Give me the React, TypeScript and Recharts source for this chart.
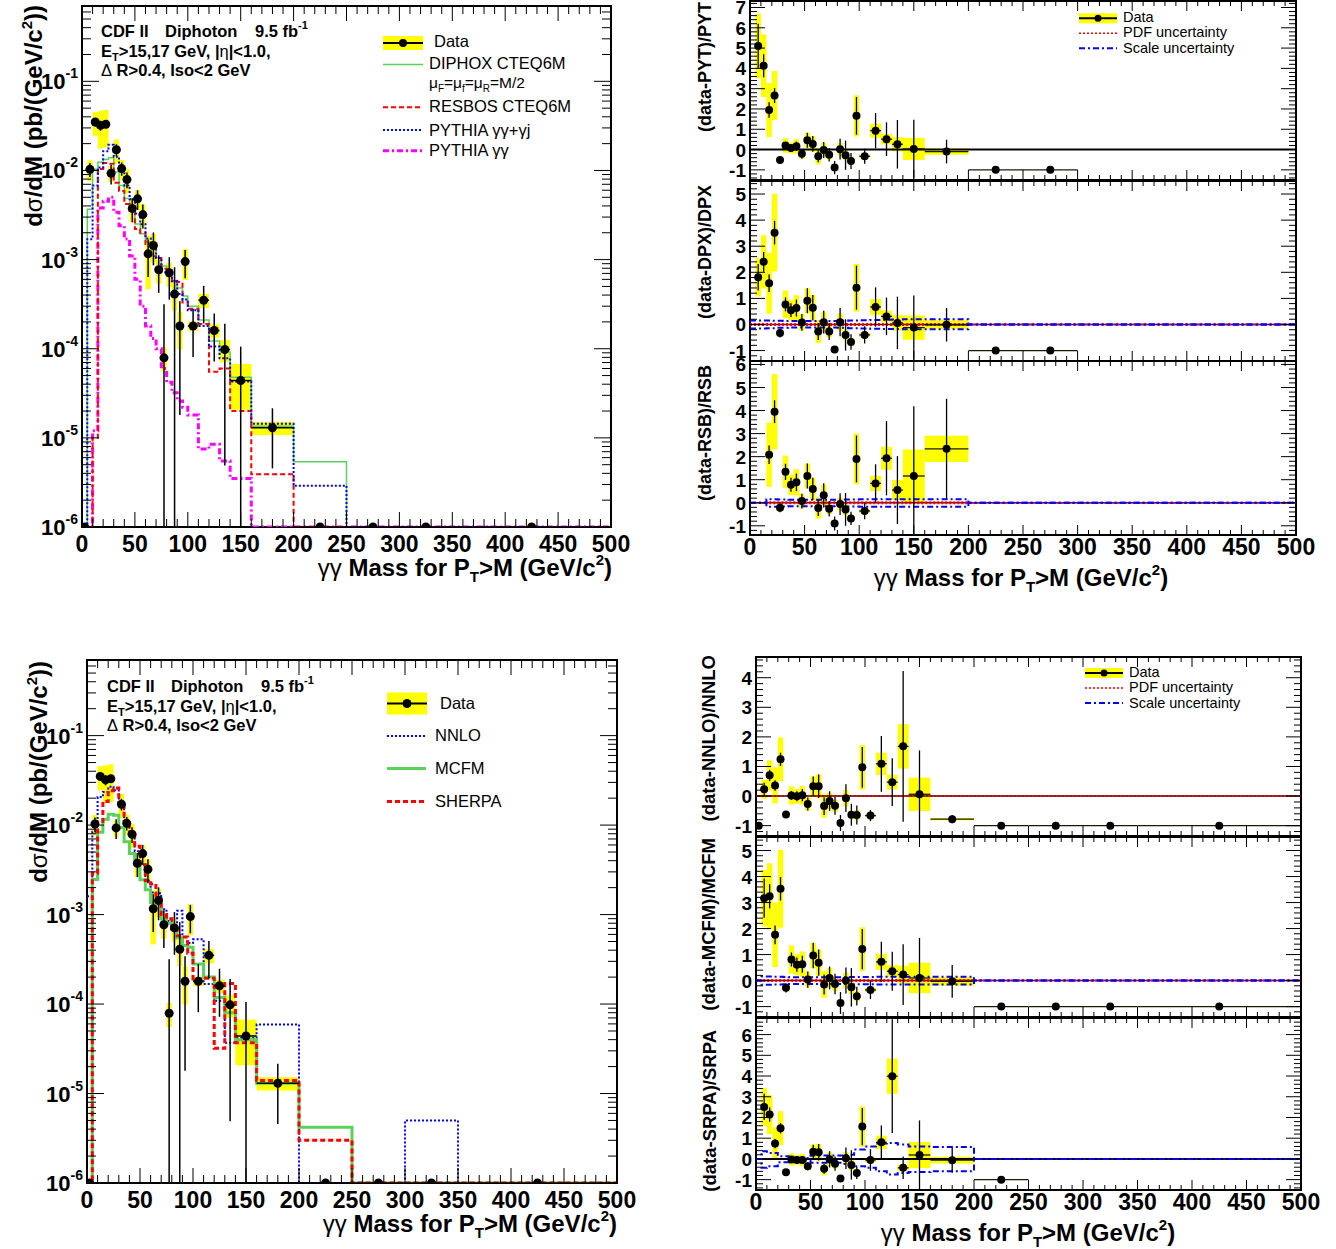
import React from 'react';
import {
  ComposedChart,
  Line,
  Scatter,
  XAxis,
  YAxis,
  ErrorBar,
  ReferenceArea,
  ReferenceLine,
} from 'recharts';

// ---- binning (GeV/c^2) ----
const EDGES = [0, 5, 10, 15, 20, 25, 30, 35, 40, 45, 50, 55, 60, 65, 70, 75, 80, 85, 90, 95, 100, 110, 120, 130, 140, 160, 200, 250, 300, 350, 500];
const MASS = [2.5, 7.5, 12.5, 17.5, 22.5, 27.5, 32.5, 37.5, 42.5, 47.5, 52.5, 57.5, 62.5, 67.5, 72.5, 77.5, 82.5, 87.5, 92.5, 97.5, 105, 115, 125, 135, 150, 180, 225, 275, 325, 425];

// ---- measured cross section, pb/(GeV/c^2) ----
const DATA = [0, 0.0103, 0.035, 0.032, 0.033, 0.0093, 0.0171, 0.0105, 0.0079, 0.00375, 0.0048, 0.0032, 0.00116, 0.00144, 0.00077, 0.000079, 0.00071, 0.00041, 0.00018, 0.00095, 0.00018, 0.00035, 0.00016, 0.000098, 0.000044, 0.000013, 0, 0, 0, 0];
const STAT_REL = [0, 0.18, 0.11, 0.13, 0.1, 0.25, 0.15, 0.17, 0.2, 0.3, 0.25, 0.3, 0.45, 0.4, 0.45, 3.0, 0.5, 1.0, 0.9, 0.35, 0.55, 0.45, 0.55, 0.95, 1.4, 0.65, 0, 0, 0, 0];
const SYS_REL = [0, 0.26, 0.3, 0.45, 0.45, 0.2, 0.3, 0.25, 0.3, 0.3, 0.25, 0.3, 0.6, 0.35, 0.3, 0.3, 0.3, 0.35, 0.45, 0.38, 0.12, 0.18, 0.17, 0.28, 0.53, 0.17, 0, 0, 0, 0];

// ---- predictions (top) ----
const DIPHOX = [0, 0.00367, 0.0103, 0.0124, 0.0133, 0.0139, 0.00966, 0.00677, 0.00485, 0.00347, 0.00251, 0.00195, 0.00159, 0.00132, 0.00105, 0.00085, 0.00065, 0.00058, 0.00048, 0.00039, 0.0003, 0.00021, 0.000122, 0.000092, 0.000048, 0.0000135, 0.0000054, 0, 0, 0];
const RESBOS = [0, 0, 0.00001, 0.0104, 0.0121, 0.0119, 0.0073, 0.0059, 0.0042, 0.0035, 0.0022, 0.002, 0.0015, 0.00109, 0.00104, 0.00079, 0.00076, 0.00058, 0.00056, 0.00033, 0.00028, 0.00019, 0.000055, 0.00006, 0.00002, 0.0000039, 0, 0, 0, 0];
const PYTHIA_GJ = [0, 0.00169, 0.0068, 0.0108, 0.0164, 0.0194, 0.01425, 0.0097, 0.0068, 0.00475, 0.00329, 0.0025, 0.00173, 0.00147, 0.00104, 0.00072, 0.0007, 0.00057, 0.00041, 0.000357, 0.00027, 0.00018, 0.000106, 0.000078, 0.000043, 0.0000144, 0.0000029, 0, 0, 0];
const PYTHIA_GG = [0, 0, 0.000012, 0.0038, 0.0045, 0.005, 0.0034, 0.0024, 0.0017, 0.0011, 0.0006, 0.0003, 0.00018, 0.00013, 0.0001, 0.00006, 0.000042, 0.000032, 0.000026, 0.000022, 0.000018, 0.0000075, 0.0000085, 0.0000055, 0.0000035, 0, 0, 0, 0, 0];

// ---- predictions (bottom) ----
const NNLO = [0.0016, 0.0084, 0.0206, 0.0235, 0.0268, 0.0245, 0.0168, 0.0106, 0.0077, 0.0051, 0.0036, 0.0024, 0.00176, 0.00173, 0.00115, 0.00085, 0.00076, 0.0011, 0.0005, 0.00048, 0.00053, 0.000167, 0.000109, 0.000037, 0.000042, 0.000059, 0, 0, 0.000005, 0];
const MCFM = [0, 0.00247, 0.0083, 0.0116, 0.0132, 0.0129, 0.0094, 0.0065, 0.0048, 0.0036, 0.00245, 0.0019, 0.00136, 0.00131, 0.00089, 0.0008, 0.00071, 0.00055, 0.00045, 0.00043, 0.00028, 0.0002, 0.000118, 0.00008, 0.00004, 0.000013, 0.0000042, 0, 0, 0];
const SHERPA = [0, 0.0029, 0.011, 0.0184, 0.0242, 0.026, 0.0176, 0.011, 0.0083, 0.0058, 0.0036, 0.0024, 0.0022, 0.00147, 0.001, 0.0009, 0.00069, 0.00058, 0.00056, 0.00037, 0.00019, 0.000194, 0.000032, 0.00017, 0.000037, 0.000014, 0.000003, 0, 0, 0];

// ---- (data - theory)/theory ----
const R_PYT = [null, 5.1, 4.13, 1.95, 2.66, -0.52, 0.2, 0.08, 0.16, -0.21, 0.46, 0.28, -0.33, -0.02, -0.26, -0.89, 0.02, -0.28, -0.56, 1.66, -0.33, 0.93, 0.51, 0.26, 0.03, -0.1, -1, -1, null, null];
const R_DPX = [null, 1.81, 2.4, 1.58, 3.52, -0.33, 0.77, 0.55, 0.63, 0.08, 0.91, 0.64, -0.27, 0.09, -0.27, -0.96, 0.09, -0.4, -0.67, 1.41, -0.4, 0.67, 0.31, 0.06, -0.12, -0.01, -1, -1, null, null];
const R_RSB = [null, null, null, 2.08, 3.95, -0.22, 1.34, 0.78, 0.89, 0.07, 1.16, 0.6, -0.23, 0.32, -0.26, -0.9, -0.06, -0.29, -0.68, 1.9, -0.36, 0.84, 1.93, 0.55, 1.16, 2.34, null, null, null, null];
const R_NNLO = [-1, 0.23, 0.7, 0.36, 1.24, -0.62, 0.02, -0.01, 0.03, -0.27, 0.33, 0.33, -0.34, -0.17, -0.33, -0.91, -0.07, -0.63, -0.64, 0.97, -0.66, 1.09, 0.47, 1.68, 0.06, -0.78, -1, -1, -1, -1];
const R_MCFM = [null, 3.17, 3.24, 1.76, 3.53, -0.28, 0.81, 0.61, 0.63, 0.04, 0.96, 0.69, -0.15, 0.1, -0.13, -0.86, 0, -0.26, -0.6, 1.21, -0.36, 0.72, 0.36, 0.23, 0.1, -0.03, -1, -1, -1, -1];
const R_SRPA = [null, 2.51, 2.14, 0.74, 1.48, -0.64, -0.03, -0.05, -0.05, -0.35, 0.35, 0.32, -0.48, -0.02, -0.23, -0.95, 0.03, -0.29, -0.68, 1.56, -0.05, 0.8, 3.99, -0.43, 0.19, -0.06, -1, null, null, null];

// relative data errors used in the ratio panels (stat / syst of the ratio ~ (1+r) * rel)
const R_STAT_REL = [0, 0.18, 0.11, 0.13, 0.1, 0.25, 0.15, 0.17, 0.2, 0.3, 0.25, 0.3, 0.45, 0.4, 0.45, 3.0, 0.5, 1.0, 0.9, 0.35, 0.55, 0.45, 0.55, 0.95, 1.4, 0.65, 0, 0, 0, 0];
const R_SYS_REL = [0, 0.26, 0.3, 0.45, 0.33, 0.2, 0.3, 0.25, 0.3, 0.3, 0.25, 0.3, 0.6, 0.35, 0.3, 0.3, 0.3, 0.35, 0.45, 0.38, 0.12, 0.18, 0.17, 0.28, 0.53, 0.17, 0, 0, 0, 0];

// ---- uncertainty bands on the ratios ----
const DPX_SCALE_UP = [0.15, 0.15, 0.15, 0.15, 0.14, 0.14, 0.13, 0.13, 0.13, 0.13, 0.13, 0.13, 0.13, 0.13, 0.13, 0.13, 0.14, 0.14, 0.15, 0.15, 0.16, 0.17, 0.18, 0.19, 0.2, 0.2, 0, 0, 0, 0];
const DPX_SCALE_DN = [-0.15, -0.15, -0.15, -0.14, -0.14, -0.13, -0.13, -0.12, -0.12, -0.12, -0.12, -0.12, -0.12, -0.12, -0.12, -0.12, -0.13, -0.13, -0.14, -0.14, -0.15, -0.16, -0.17, -0.17, -0.18, -0.18, 0, 0, 0, 0];
const DPX_PDF_UP = [0.03, 0.03, 0.03, 0.03, 0.03, 0.03, 0.03, 0.03, 0.03, 0.03, 0.03, 0.03, 0.03, 0.03, 0.03, 0.03, 0.03, 0.03, 0.03, 0.03, 0.03, 0.03, 0.03, 0.03, 0.03, 0.03, 0, 0, 0, 0];
const DPX_PDF_DN = [-0.03, -0.03, -0.03, -0.03, -0.03, -0.03, -0.03, -0.03, -0.03, -0.03, -0.03, -0.03, -0.03, -0.03, -0.03, -0.03, -0.03, -0.03, -0.03, -0.03, -0.03, -0.03, -0.03, -0.03, -0.03, -0.03, 0, 0, 0, 0];
const RSB_SCALE_UP = [0, 0, 0, 0.15, 0.15, 0.14, 0.14, 0.13, 0.13, 0.13, 0.13, 0.13, 0.13, 0.13, 0.13, 0.13, 0.13, 0.14, 0.14, 0.14, 0.15, 0.15, 0.15, 0.15, 0.15, 0.15, 0, 0, 0, 0];
const RSB_SCALE_DN = [0, 0, 0, -0.17, -0.17, -0.16, -0.16, -0.15, -0.15, -0.15, -0.15, -0.15, -0.15, -0.15, -0.15, -0.15, -0.15, -0.16, -0.16, -0.16, -0.17, -0.17, -0.17, -0.17, -0.17, -0.17, 0, 0, 0, 0];
const RSB_PDF_UP = [0, 0, 0, 0.03, 0.03, 0.03, 0.03, 0.03, 0.03, 0.03, 0.03, 0.03, 0.03, 0.03, 0.03, 0.03, 0.03, 0.03, 0.03, 0.03, 0.03, 0.03, 0.03, 0.03, 0.03, 0.03, 0, 0, 0, 0];
const RSB_PDF_DN = [0, 0, 0, -0.03, -0.03, -0.03, -0.03, -0.03, -0.03, -0.03, -0.03, -0.03, -0.03, -0.03, -0.03, -0.03, -0.03, -0.03, -0.03, -0.03, -0.03, -0.03, -0.03, -0.03, -0.03, -0.03, 0, 0, 0, 0];
const MCFM_SCALE_UP = [0, 0.16, 0.16, 0.15, 0.15, 0.14, 0.13, 0.13, 0.13, 0.13, 0.13, 0.13, 0.13, 0.13, 0.13, 0.13, 0.13, 0.14, 0.14, 0.14, 0.14, 0.15, 0.15, 0.15, 0.15, 0.15, 0, 0, 0, 0];
const MCFM_SCALE_DN = [0, -0.16, -0.16, -0.15, -0.15, -0.14, -0.13, -0.13, -0.13, -0.13, -0.13, -0.13, -0.13, -0.13, -0.13, -0.13, -0.13, -0.14, -0.14, -0.14, -0.14, -0.15, -0.15, -0.15, -0.15, -0.15, 0, 0, 0, 0];
const MCFM_PDF_UP = [0, 0.03, 0.03, 0.03, 0.03, 0.03, 0.03, 0.03, 0.03, 0.03, 0.03, 0.03, 0.03, 0.03, 0.03, 0.03, 0.03, 0.03, 0.03, 0.03, 0.03, 0.03, 0.03, 0.03, 0.03, 0.03, 0, 0, 0, 0];
const MCFM_PDF_DN = [0, -0.03, -0.03, -0.03, -0.03, -0.03, -0.03, -0.03, -0.03, -0.03, -0.03, -0.03, -0.03, -0.03, -0.03, -0.03, -0.03, -0.03, -0.03, -0.03, -0.03, -0.03, -0.03, -0.03, -0.03, -0.03, 0, 0, 0, 0];
const SRPA_SCALE_UP = [0, 0.37, 0.29, 0.29, 0.13, 0.13, 0.05, 0.05, 0.05, 0.05, 0.16, 0.16, 0.16, 0.16, 0.16, 0.16, 0.2, 0.2, 0.45, 0.45, 0.6, 0.74, 0.77, 0.69, 0.6, 0.58, 0, 0, 0, 0];
const SRPA_SCALE_DN = [0, -0.43, -0.35, -0.35, -0.16, -0.16, -0.08, -0.08, -0.08, -0.08, -0.19, -0.19, -0.19, -0.19, -0.19, -0.19, -0.24, -0.24, -0.35, -0.35, -0.43, -0.6, -0.75, -0.68, -0.63, -0.6, 0, 0, 0, 0];

// ---- axis ticks ----
const X_LABELS = [0, 50, 100, 150, 200, 250, 300, 350, 400, 450, 500];
const X_TICKS = Array.from({ length: 51 }, (_, i) => i * 10);
const LOG_DECADES = [1e-6, 1e-5, 1e-4, 1e-3, 1e-2, 1e-1];
const LOG_MIN = 1e-6;
const LOG_MAX = 0.7;
const LOG_TICKS = LOG_DECADES.flatMap((d) => [1, 2, 3, 4, 5, 6, 7, 8, 9].map((k) => k * d)).filter((v) => v <= LOG_MAX * 1.0001);

const FONT = '"Liberation Sans", Arial, Helvetica, sans-serif';
const YELLOW = '#ffff00';
const GREEN = '#5ad25a';
const RED = '#ff0000';
const BLUE = '#0000ff';
const MAGENTA = '#ff00ff';
const DOTTED = '2 2';
const DASHED = '5 3';
const DASHDOT = '6 3 2 3';

type Curve = { key: string; vals: number[]; color: string; width: number; dash?: string };

const stepPts = (vals: number[], floor?: number) => {
  const f = (v: number) => (floor === undefined ? v : Math.max(v, floor));
  const pts = vals.map((v, i) => ({ x: EDGES[i], y: f(v) }));
  pts.push({ x: EDGES[EDGES.length - 1], y: f(vals[vals.length - 1]) });
  return pts;
};

const xTick = (ph: number, majLen: number, minLen: number, showLabels: boolean, labelDy: number) => (p: any) => {
  const v = Math.round(Number(p.payload.value));
  const major = X_LABELS.includes(v);
  const len = major ? majLen : minLen;
  return (
    <g>
      <line x1={p.x} x2={p.x} y1={p.y} y2={p.y - len} stroke="#000" strokeWidth={1} />
      <line x1={p.x} x2={p.x} y1={p.y - ph} y2={p.y - ph + len} stroke="#000" strokeWidth={1} />
      {showLabels && major && (
        <text x={p.x} y={p.y + labelDy} textAnchor="middle" fontSize={23} fontWeight="bold" fontFamily={FONT} fill="#000">
          {v}
        </text>
      )}
    </g>
  );
};

const logYTick = (pw: number) => (p: any) => {
  const v = Number(p.payload.value);
  const exp = Math.round(Math.log10(v));
  const major = Math.abs(v / Math.pow(10, exp) - 1) < 1e-6;
  const len = major ? 17 : 9;
  return (
    <g>
      <line x1={p.x} x2={p.x + len} y1={p.y} y2={p.y} stroke="#000" strokeWidth={1} />
      <line x1={p.x + pw - len} x2={p.x + pw} y1={p.y} y2={p.y} stroke="#000" strokeWidth={1} />
      {major && (
        <text x={p.x - 4} y={p.y + 8} textAnchor="end" fontSize={22} fontWeight="bold" fontFamily={FONT} fill="#000">
          10<tspan dy={-11} fontSize={14}>{exp}</tspan>
        </text>
      )}
    </g>
  );
};

const linYTick = (pw: number, labels: number[]) => (p: any) => {
  const v = Number(p.payload.value);
  const major = Math.abs(v - Math.round(v)) < 1e-6;
  const len = major ? 15 : 7;
  return (
    <g>
      <line x1={p.x} x2={p.x + len} y1={p.y} y2={p.y} stroke="#000" strokeWidth={1} />
      <line x1={p.x + pw - len} x2={p.x + pw} y1={p.y} y2={p.y} stroke="#000" strokeWidth={1} />
      {major && labels.includes(Math.round(v)) && (
        <text x={p.x - 4} y={p.y + 7} textAnchor="end" fontSize={19} fontWeight="bold" fontFamily={FONT} fill="#000">
          {Math.round(v)}
        </text>
      )}
    </g>
  );
};

const dotShape = (r: number) => (p: any) => <circle cx={p.cx} cy={p.cy} r={r} fill="#000" />;

const PAD_L = 90;
const PAD_T = 10;
const PAD_R = 25;
const PAD_B = 40;

function LogPanel({ x0, x1, y0, y1, curves }: { x0: number; x1: number; y0: number; y1: number; curves: Curve[] }) {
  const pw = x1 - x0;
  const ph = y1 - y0;
  const points = DATA.map((v, i) => {
    const y = Math.max(v, LOG_MIN);
    const e = v * STAT_REL[i];
    return {
      x: MASS[i],
      y,
      ey: [Math.min(e, y - LOG_MIN), Math.min(e, LOG_MAX - y)],
      ex: (EDGES[i + 1] - EDGES[i]) / 2,
    };
  });
  return (
    <div style={{ position: 'absolute', left: x0 - PAD_L, top: y0 - PAD_T }}>
      <ComposedChart width={pw + PAD_L + PAD_R} height={ph + PAD_T + PAD_B} margin={{ top: PAD_T, right: PAD_R, bottom: 0, left: 0 }}>
        <XAxis type="number" dataKey="x" domain={[0, 500]} allowDataOverflow ticks={X_TICKS} interval={0} height={PAD_B}
          tickSize={0} tickMargin={0} tickLine={false} axisLine={false} tick={xTick(ph, 15, 8, true, 25)} />
        <YAxis type="number" dataKey="y" scale="log" domain={[LOG_MIN, LOG_MAX]} allowDataOverflow ticks={LOG_TICKS} interval={0}
          width={PAD_L} tickSize={0} tickMargin={0} tickLine={false} axisLine={false} tick={logYTick(pw)} />
        {DATA.map((v, i) =>
          v > 0 ? (
            <ReferenceArea key={`sys${i}`} x1={EDGES[i]} x2={EDGES[i + 1]} y1={Math.max(v * (1 - SYS_REL[i]), LOG_MIN)}
              y2={Math.min(v * (1 + SYS_REL[i]), LOG_MAX)} fill={YELLOW} fillOpacity={1} stroke="none" />
          ) : null
        )}
        {curves.map((c) => (
          <Line key={c.key} data={stepPts(c.vals, LOG_MIN)} dataKey="y" type="stepAfter" stroke={c.color} strokeWidth={c.width}
            strokeDasharray={c.dash} dot={false} activeDot={false} isAnimationActive={false} />
        ))}
        <Scatter data={points} shape={dotShape(4.5)} isAnimationActive={false}>
          <ErrorBar dataKey="ey" direction="y" width={0} stroke="#000" strokeWidth={1.5} />
          <ErrorBar dataKey="ex" direction="x" width={0} stroke="#000" strokeWidth={1.5} />
        </Scatter>
        <ReferenceArea x1={0} x2={500} y1={LOG_MIN} y2={LOG_MAX} fill="none" stroke="#000" strokeWidth={2} ifOverflow="visible" />
      </ComposedChart>
    </div>
  );
}

function RatioPanel({
  x0, x1, y0, y1, lo, hi, labels, ratio, bands, zero, xLabels,
}: {
  x0: number; x1: number; y0: number; y1: number; lo: number; hi: number; labels: number[];
  ratio: (number | null)[]; bands: Curve[]; zero: { color: string; dash?: string; width: number }[]; xLabels: boolean;
}) {
  const pw = x1 - x0;
  const ph = y1 - y0;
  const PL = 60;
  const PT = 12;
  const yTicks: number[] = [];
  for (let t = Math.ceil(lo * 5); t <= Math.floor(hi * 5); t++) yTicks.push(t / 5);
  const pts: any[] = [];
  const boxes: any[] = [];
  ratio.forEach((r, i) => {
    if (r === null) return;
    const s = (1 + r) * R_STAT_REL[i];
    const b = (1 + r) * R_SYS_REL[i];
    pts.push({ x: MASS[i], y: r, ey: [Math.min(s, r - lo), Math.min(s, hi - r)], ex: (EDGES[i + 1] - EDGES[i]) / 2 });
    if (b > 0) boxes.push({ i, y1: Math.max(r - b, lo), y2: Math.min(r + b, hi) });
  });
  return (
    <div style={{ position: 'absolute', left: x0 - PL, top: y0 - PT }}>
      <ComposedChart width={pw + PL + PAD_R} height={ph + PT + PAD_B} margin={{ top: PT, right: PAD_R, bottom: 0, left: 0 }}>
        <XAxis type="number" dataKey="x" domain={[0, 500]} allowDataOverflow ticks={X_TICKS} interval={0} height={PAD_B}
          tickSize={0} tickMargin={0} tickLine={false} axisLine={false} tick={xTick(ph, 10, 5, xLabels, 20)} />
        <YAxis type="number" dataKey="y" domain={[lo, hi]} allowDataOverflow ticks={yTicks} interval={0} width={PL}
          tickSize={0} tickMargin={0} tickLine={false} axisLine={false} tick={linYTick(pw, labels)} />
        {boxes.map((bx) => (
          <ReferenceArea key={`b${bx.i}`} x1={EDGES[bx.i]} x2={EDGES[bx.i + 1]} y1={bx.y1} y2={bx.y2} fill={YELLOW} fillOpacity={1} stroke="none" />
        ))}
        {zero.map((z, k) => (
          <ReferenceLine key={`z${k}`} y={0} stroke={z.color} strokeWidth={z.width} strokeDasharray={z.dash} />
        ))}
        {bands.map((c) => (
          <Line key={c.key} data={stepPts(c.vals)} dataKey="y" type="stepAfter" stroke={c.color} strokeWidth={c.width}
            strokeDasharray={c.dash} dot={false} activeDot={false} isAnimationActive={false} />
        ))}
        <Scatter data={pts} shape={dotShape(4)} isAnimationActive={false}>
          <ErrorBar dataKey="ey" direction="y" width={0} stroke="#000" strokeWidth={1.3} />
          <ErrorBar dataKey="ex" direction="x" width={0} stroke="#1a1a00" strokeWidth={1.3} />
        </Scatter>
        <ReferenceArea x1={0} x2={500} y1={lo} y2={hi} fill="none" stroke="#000" strokeWidth={2} ifOverflow="visible" />
      </ComposedChart>
    </div>
  );
}

const T = { fontFamily: FONT, fill: '#000' } as const;

function XTitle({ x, y, anchor }: { x: number; y: number; anchor: 'end' | 'middle' }) {
  return (
    <text x={x} y={y} textAnchor={anchor} fontSize={24} fontWeight="bold" {...T}>
      <tspan fontWeight="normal">γγ</tspan> Mass for P<tspan dy={6} fontSize={15}>T</tspan>
      <tspan dy={-6}>&gt;M (GeV/c</tspan><tspan dy={-11} fontSize={15}>2</tspan><tspan dy={11}>)</tspan>
    </text>
  );
}

function RotTitle({ x, y, size, children }: { x: number; y: number; size: number; children: React.ReactNode }) {
  return (
    <text transform={`translate(${x},${y}) rotate(-90)`} textAnchor="end" fontSize={size} fontWeight="bold" {...T}>
      {children}
    </text>
  );
}

function CdfLabel({ x, y }: { x: number; y: number }) {
  return (
    <g fontSize={16.5} fontWeight="bold" {...T}>
      <text x={x} y={y} {...T}>CDF II</text>
      <text x={x + 64} y={y} {...T}>Diphoton</text>
      <text x={x + 154} y={y} {...T}>9.5 fb<tspan dy={-8} fontSize={11}>-1</tspan></text>
      <text x={x} y={y + 20} {...T}>
        E<tspan dy={4} fontSize={11}>T</tspan><tspan dy={-4}>&gt;15,17 GeV, |</tspan>
        <tspan fontWeight="normal">η</tspan>|&lt;1.0,
      </text>
      <text x={x} y={y + 39} {...T}>
        <tspan fontWeight="normal">Δ</tspan> R&gt;0.4, Iso&lt;2 GeV
      </text>
    </g>
  );
}

function DataKey({ x, y, w, h, r }: { x: number; y: number; w: number; h: number; r: number }) {
  return (
    <g>
      <rect x={x} y={y - h / 2} width={w} height={h} fill={YELLOW} />
      <line x1={x} x2={x + w} y1={y} y2={y} stroke="#000" strokeWidth={2} />
      <circle cx={x + w / 2} cy={y} r={r} fill="#000" />
    </g>
  );
}

function KeyLine({ x, y, w, color, width, dash }: { x: number; y: number; w: number; color: string; width: number; dash?: string }) {
  return <line x1={x} x2={x + w} y1={y} y2={y} stroke={color} strokeWidth={width} strokeDasharray={dash} />;
}

function UncLegend({ x, y }: { x: number; y: number }) {
  return (
    <g fontSize={14.5} {...T}>
      <DataKey x={x} y={y} w={38} h={10} r={3.5} />
      <text x={x + 44} y={y + 4} {...T}>Data</text>
      <KeyLine x={x} y={y + 15} w={38} color={RED} width={1.5} dash={DOTTED} />
      <text x={x + 44} y={y + 19} {...T}>PDF uncertainty</text>
      <KeyLine x={x} y={y + 30} w={38} color={BLUE} width={2} dash={DASHDOT} />
      <text x={x + 44} y={y + 35} {...T}>Scale uncertainty</text>
    </g>
  );
}

const TOP_CURVES: Curve[] = [
  { key: 'dpx', vals: DIPHOX, color: GREEN, width: 1.5 },
  { key: 'gg', vals: PYTHIA_GG, color: MAGENTA, width: 3, dash: DASHDOT },
  { key: 'rsb', vals: RESBOS, color: RED, width: 2, dash: DASHED },
  { key: 'pyt', vals: PYTHIA_GJ, color: BLUE, width: 2, dash: DOTTED },
];

const BOTTOM_CURVES: Curve[] = [
  { key: 'nnlo', vals: NNLO, color: BLUE, width: 2, dash: DOTTED },
  { key: 'mcfm', vals: MCFM, color: GREEN, width: 3 },
  { key: 'srpa', vals: SHERPA, color: RED, width: 3, dash: DASHED },
];

const band = (key: string, vals: number[], color: string, width: number, dash: string): Curve => ({ key, vals, color, width, dash });

export default function App() {
  return (
    <div style={{ position: 'absolute', left: 0, top: 0, width: 1336, height: 1249, background: '#fff', fontFamily: FONT }}>
      <LogPanel x0={82} x1={611} y0={6} y1={527} curves={TOP_CURVES} />
      <LogPanel x0={87} x1={617} y0={660} y1={1183} curves={BOTTOM_CURVES} />

      <RatioPanel x0={750} x1={1296} y0={1} y1={180} lo={-1.5} hi={7.32} labels={[-1, 0, 1, 2, 3, 4, 5, 6, 7]}
        ratio={R_PYT} bands={[]} zero={[{ color: '#000', width: 2 }]} xLabels={false} />
      <RatioPanel x0={750} x1={1296} y0={181} y1={361} lo={-1.4} hi={5.5} labels={[-1, 0, 1, 2, 3, 4, 5]}
        ratio={R_DPX} xLabels={false} zero={[{ color: '#800000', width: 1.5 }]}
        bands={[
          band('pu', DPX_PDF_UP, RED, 1.5, DOTTED), band('pd', DPX_PDF_DN, RED, 1.5, DOTTED),
          band('su', DPX_SCALE_UP, BLUE, 2, DASHDOT), band('sd', DPX_SCALE_DN, BLUE, 2, DASHDOT),
        ]} />
      <RatioPanel x0={750} x1={1296} y0={361} y1={535} lo={-1.4} hi={6.15} labels={[-1, 0, 1, 2, 3, 4, 5, 6]}
        ratio={R_RSB} xLabels={true} zero={[{ color: '#800000', width: 1.5 }]}
        bands={[
          band('pu', RSB_PDF_UP, RED, 1.5, DOTTED), band('pd', RSB_PDF_DN, RED, 1.5, DOTTED),
          band('su', RSB_SCALE_UP, BLUE, 2, DASHDOT), band('sd', RSB_SCALE_DN, BLUE, 2, DASHDOT),
        ]} />

      <RatioPanel x0={756} x1={1301} y0={657} y1={836} lo={-1.35} hi={4.7} labels={[-1, 0, 1, 2, 3, 4]}
        ratio={R_NNLO} bands={[]} xLabels={false}
        zero={[{ color: '#000', width: 1.5 }, { color: RED, width: 2, dash: DOTTED }]} />
      <RatioPanel x0={756} x1={1301} y0={837} y1={1017} lo={-1.4} hi={5.52} labels={[-1, 0, 1, 2, 3, 4, 5]}
        ratio={R_MCFM} xLabels={false} zero={[{ color: '#800000', width: 1.5 }]}
        bands={[
          band('pu', MCFM_PDF_UP, RED, 1.5, DOTTED), band('pd', MCFM_PDF_DN, RED, 1.5, DOTTED),
          band('su', MCFM_SCALE_UP, BLUE, 2, DASHDOT), band('sd', MCFM_SCALE_DN, BLUE, 2, DASHDOT),
        ]} />
      <RatioPanel x0={756} x1={1301} y0={1018} y1={1190} lo={-1.5} hi={6.8} labels={[-1, 0, 1, 2, 3, 4, 5, 6]}
        ratio={R_SRPA} xLabels={true} zero={[{ color: '#000', width: 2 }]}
        bands={[band('su', SRPA_SCALE_UP, BLUE, 2, DASHDOT), band('sd', SRPA_SCALE_DN, BLUE, 2, DASHDOT)]} />

      <svg width={1336} height={1249} style={{ position: 'absolute', left: 0, top: 0, pointerEvents: 'none' }}>
        {/* top-left */}
        <RotTitle x={42} y={5} size={24}>
          d<tspan fontWeight="normal">σ</tspan>/dM (pb/(GeV/c<tspan dy={-10} fontSize={15}>2</tspan><tspan dy={10}>))</tspan>
        </RotTitle>
        <XTitle x={612} y={576} anchor="end" />
        <CdfLabel x={101} y={37} />
        <g fontSize={16.5} {...T}>
          <DataKey x={383} y={43} w={40} h={14} r={4} />
          <text x={434} y={47} {...T}>Data</text>
          <KeyLine x={383} y={64.5} w={40} color={GREEN} width={1.5} />
          <text x={429} y={68.5} {...T}>DIPHOX CTEQ6M</text>
          <text x={429} y={88} fontSize={15.5} {...T}>
            μ<tspan dy={4} fontSize={10}>F</tspan><tspan dy={-4}>=μ</tspan><tspan dy={4} fontSize={10}>f</tspan>
            <tspan dy={-4}>=μ</tspan><tspan dy={4} fontSize={10}>R</tspan><tspan dy={-4}>=M/2</tspan>
          </text>
          <KeyLine x={383} y={107.3} w={40} color={RED} width={2} dash={DASHED} />
          <text x={429} y={112} {...T}>RESBOS CTEQ6M</text>
          <KeyLine x={383} y={130} w={40} color={BLUE} width={2} dash={DOTTED} />
          <text x={429} y={136} {...T}>PYTHIA γγ+γj</text>
          <KeyLine x={383} y={150.7} w={40} color={MAGENTA} width={3} dash={DASHDOT} />
          <text x={429} y={155.5} {...T}>PYTHIA γγ</text>
        </g>

        {/* bottom-left */}
        <RotTitle x={47} y={661} size={24}>
          d<tspan fontWeight="normal">σ</tspan>/dM (pb/(GeV/c<tspan dy={-10} fontSize={15}>2</tspan><tspan dy={10}>))</tspan>
        </RotTitle>
        <XTitle x={617} y={1232} anchor="end" />
        <CdfLabel x={107} y={692} />
        <g fontSize={16.5} {...T}>
          <DataKey x={387} y={703.5} w={40} h={22} r={4.5} />
          <text x={440} y={709} {...T}>Data</text>
          <KeyLine x={387} y={736} w={39} color={BLUE} width={2} dash={DOTTED} />
          <text x={435} y={741} {...T}>NNLO</text>
          <KeyLine x={387} y={768.5} w={39} color={GREEN} width={3} />
          <text x={435} y={773.5} {...T}>MCFM</text>
          <KeyLine x={387} y={801.5} w={39} color={RED} width={3} dash={DASHED} />
          <text x={435} y={806.5} {...T}>SHERPA</text>
        </g>

        {/* top-right */}
        <RotTitle x={711} y={2} size={18}>(data-PYT)/PYT</RotTitle>
        <RotTitle x={711} y={185} size={18}>(data-DPX)/DPX</RotTitle>
        <RotTitle x={711} y={365} size={18}>(data-RSB)/RSB</RotTitle>
        <XTitle x={1021} y={586} anchor="middle" />
        <UncLegend x={1079} y={18.3} />

        {/* bottom-right */}
        <RotTitle x={715} y={655} size={18.5}>(data-NNLO)/NNLO</RotTitle>
        <RotTitle x={715} y={838} size={18.5}>(data-MCFM)/MCFM</RotTitle>
        <RotTitle x={716} y={1030} size={18.5}>(data-SRPA)/SRPA</RotTitle>
        <XTitle x={1028} y={1241} anchor="middle" />
        <UncLegend x={1085} y={673} />
      </svg>
    </div>
  );
}
